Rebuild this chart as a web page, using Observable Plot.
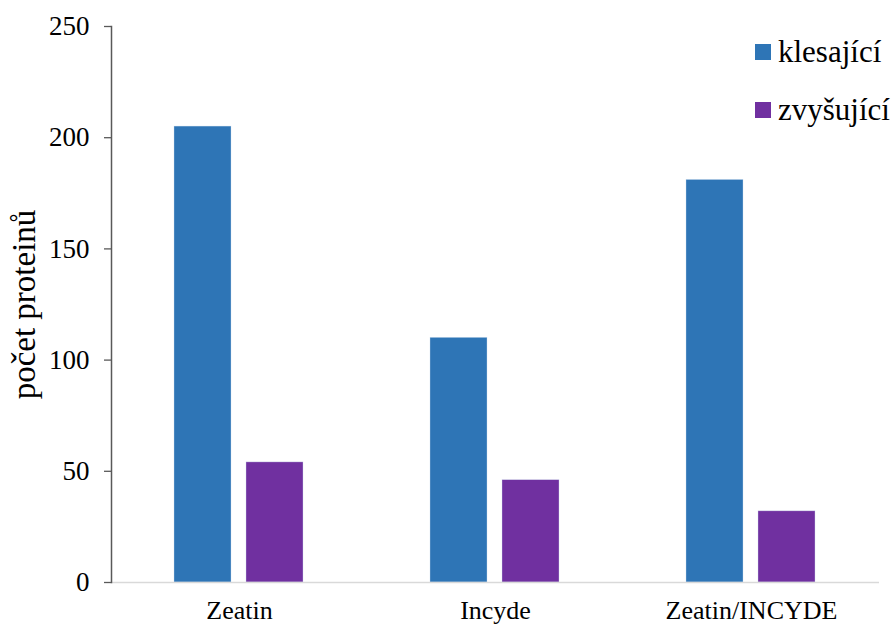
<!DOCTYPE html>
<html>
<head>
<meta charset="utf-8">
<script src="https://cdn.jsdelivr.net/npm/d3@7"></script>
<script src="https://cdn.jsdelivr.net/npm/@observablehq/plot@0.6"></script>
<style>
  html, body { margin: 0; padding: 0; background: #fff; }
  #wrap { position: relative; width: 896px; height: 626px; font-family: 'Liberation Serif', 'Times New Roman', serif; }
  #legend { position: absolute; left: 755px; top: 37px; }
  .item { display: flex; align-items: center; height: 30px; margin-bottom: 28px; font-size: 31px; color: #000; font-family: 'Liberation Serif', 'Times New Roman', serif; white-space: nowrap; }
  .sw { width: 16px; height: 16px; margin-right: 7px; flex: none; }
  svg { overflow: visible; }
</style>
</head>
<body>
<div id="wrap"></div>
<script>
const categories = ["Zeatin", "Incyde", "Zeatin/INCYDE"];
const series = ["klesající", "zvyšující"];
const klesajici = [205, 110, 181];
const zvysujici = [54, 46, 32];
const colors = ["#2E75B6", "#7030A0"];
const yTicks = [0, 50, 100, 150, 200, 250];
const yLabel = "počet proteinů";

const serif = "'Liberation Serif', 'Times New Roman', serif";
const values = [klesajici, zvysujici];
const data = [];
categories.forEach((c, i) => series.forEach((s, j) => data.push({category: c, series: s, value: values[j][i]})));

const plot = Plot.plot({
  width: 896,
  height: 626,
  marginLeft: 111,
  marginRight: 17,
  marginTop: 26,
  marginBottom: 44,
  style: {fontFamily: serif, background: "#fff", color: "#000"},
  fx: {domain: categories, padding: 0, label: null},
  x: {domain: series, paddingInner: 0.207, paddingOuter: 0.869, axis: null},
  y: {domain: [0, 250], label: null},
  color: {domain: series, range: colors},
  marks: [
    Plot.barY(data, {fx: "category", x: "series", y: "value", fill: "series", stroke: "#cfe0f0", strokeWidth: 0.6, strokeOpacity: 0.6}),
    Plot.ruleY([0], {stroke: "#D9D9D9", strokeWidth: 1.5}),
    Plot.frame({anchor: "left", facetAnchor: "left", stroke: "#595959", strokeWidth: 1.5}),
    Plot.axisY({ticks: yTicks, tickSize: 7, tickPadding: 15, fontSize: 27, fontFamily: serif, stroke: "#595959", strokeWidth: 1.3, label: null}),
    Plot.axisFx({anchor: "bottom", tickSize: 0, tickPadding: 18, fontSize: 26, fontFamily: serif, label: null}),
    Plot.text([yLabel], {frameAnchor: "left", textAnchor: "middle", dx: -87, rotate: -90, fontSize: 33, fontFamily: serif, facetAnchor: "left", fill: "#000"})
  ]
});

const wrap = document.getElementById("wrap");
wrap.appendChild(plot);

const legend = document.createElement("div");
legend.id = "legend";
series.forEach((s, i) => {
  const item = document.createElement("div");
  item.className = "item";
  const sw = document.createElement("span");
  sw.className = "sw";
  sw.style.background = colors[i];
  const t = document.createElement("span");
  t.textContent = s;
  t.style.fontFamily = serif;
  item.appendChild(sw);
  item.appendChild(t);
  legend.appendChild(item);
});
wrap.appendChild(legend);
</script>
</body>
</html>
